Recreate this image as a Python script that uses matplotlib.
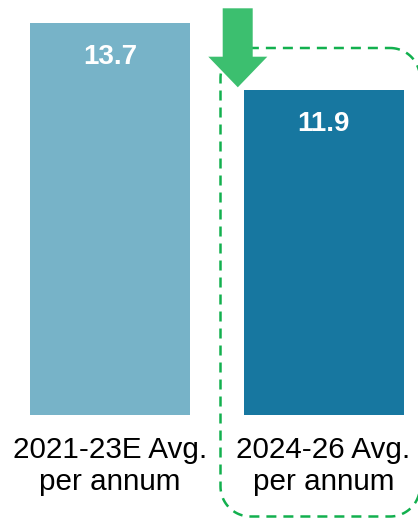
import matplotlib
matplotlib.use("Agg")
import numpy as np
import matplotlib.pyplot as plt
from matplotlib.patches import Polygon
from matplotlib.lines import Line2D

plt.rcParams["font.family"] = ["Liberation Sans", "DejaVu Sans"]

# Data
categories = ["2021-23E Avg.\nper annum", "2024-26 Avg.\nper annum"]
values = [13.7, 11.9]
value_labels = ["13.7", "11.9"]
bar_colors = ["#77B3C8", "#1777A0"]

W, H, DPI = 418, 519, 100
fig = plt.figure(figsize=(W / DPI, H / DPI), dpi=DPI)
fig.patch.set_facecolor("white")

# Axes span the full width; the bar baseline sits at 415 px from the top
ax = fig.add_axes([0, (H - 415) / H, 1, 415 / H])
x = list(range(len(categories)))
ax.bar(x, values, width=0.749, color=bar_colors, zorder=2)
ax.set_xlim(-0.515, 1.442)
ax.set_ylim(3.16, 14.31)

for xi, v, lab in zip(x, values, value_labels):
    ax.text(xi, v - 1.11, lab, ha="center", va="baseline", color="white",
            fontsize=20, fontweight="bold", zorder=3)

ax.set_xticks(x)
ax.set_xticklabels(categories, fontsize=21.3, color="black", linespacing=1.2)
ax.tick_params(axis="x", length=0, pad=15)
ax.set_yticks([])
for s in ax.spines.values():
    s.set_visible(False)
ax.patch.set_visible(False)

tr = fig.dpi_scale_trans


def rounded_rect(left, top, right, bottom, r, n=24):
    """Outline of a rounded rectangle in pixel coords (y downward) -> inches."""
    pts = []
    corners = [
        (right - r, top + r, -90, 0),      # top-right
        (right - r, bottom - r, 0, 90),    # bottom-right
        (left + r, bottom - r, 90, 180),   # bottom-left
        (left + r, top + r, 180, 270),     # top-left
    ]
    for cx, cy, a0, a1 in corners:
        ang = np.radians(np.linspace(a0, a1, n))
        pts.extend(zip(cx + r * np.cos(ang), cy + r * np.sin(ang)))
    pts.append(pts[0])
    pts = np.array(pts)
    return pts[:, 0] / DPI, (H - pts[:, 1]) / DPI


# Dashed rounded frame around the second period
fx, fy = rounded_rect(220.5, 48, 420, 516.5, 30)
frame = Line2D(fx, fy, transform=tr, color="#12B04E", linewidth=1.8,
               linestyle=(0, (4, 2.8)), zorder=5)
fig.add_artist(frame)

# Downward arrow
arrow_px = [(222.7, 8.3), (252.7, 8.3), (252.7, 56.7), (267.3, 56.7),
            (237.8, 87.3), (208.3, 56.7), (222.7, 56.7)]
arrow_pts = [(xp / DPI, (H - yp) / DPI) for xp, yp in arrow_px]
arrow = Polygon(arrow_pts, closed=True, transform=tr, facecolor="#3CBF6F",
                edgecolor="none", zorder=6)
fig.add_artist(arrow)

fig.savefig("out.png", dpi=DPI, facecolor="white")
